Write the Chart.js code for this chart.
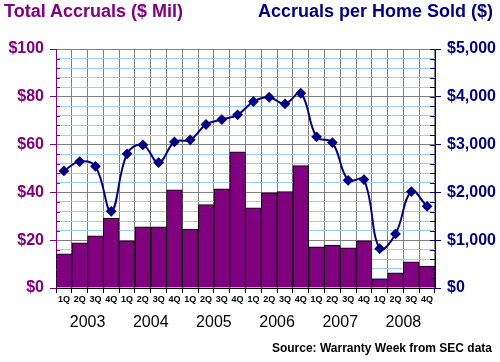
<!DOCTYPE html>
<html>
<head>
<meta charset="utf-8">
<script src="https://cdn.jsdelivr.net/npm/chart.js@4/dist/chart.umd.min.js"></script>
<style>
  html, body { margin: 0; padding: 0; background: #fff; }
  #wrap { position: relative; width: 500px; height: 362px; overflow: hidden; }
  canvas { position: absolute; left: 0; top: 0; }
  .t { position: absolute; font-family: "Liberation Sans", Arial, sans-serif; font-weight: bold; white-space: nowrap; line-height: 1; }
</style>
</head>
<body>
<div id="wrap">
  <canvas id="c" width="500" height="362"></canvas>
  <div class="t" style="left:4px; top:2px; font-size:18px; color:#800080;">Total Accruals ($ Mil)</div>
  <div class="t" style="right:7px; top:2px; font-size:18px; color:#000080;">Accruals per Home Sold ($)</div>
  <div class="t" style="right:8px; top:342px; font-size:12px; color:#000;">Source: Warranty Week from SEC data</div>
</div>
<script>
const quarters = ['1Q','2Q','3Q','4Q','1Q','2Q','3Q','4Q','1Q','2Q','3Q','4Q',
                  '1Q','2Q','3Q','4Q','1Q','2Q','3Q','4Q','1Q','2Q','3Q','4Q'];
const years = ['2003','2004','2005','2006','2007','2008'];
const totalAccruals = [14.3, 18.9, 21.8, 29.3, 19.7, 25.6, 25.6, 41.1, 24.7, 34.9, 41.5, 57.0,
                       33.5, 39.8, 40.3, 51.2, 17.2, 18.0, 16.8, 19.7, 3.8, 6.3, 10.9, 9.2];
const perHomeSold = [2450, 2645, 2546, 1604, 2806, 2994, 2624, 3057, 3099, 3420, 3524, 3623,
                     3901, 3991, 3853, 4075, 3162, 3043, 2253, 2268, 823, 1131, 2017, 1709];
const leftTicks = [0, 20, 40, 60, 80, 100];
const rightTicks = [0, 1000, 2000, 3000, 4000, 5000];

const PURPLE = '#800080', NAVY = '#000080', GRAY = '#808080', LBLUE = '#99CCFF';
const FONT = '"Liberation Sans", Arial, sans-serif';

const extras = {
  id: 'extras',
  afterDatasetsDraw(chart) {
    const ctx = chart.ctx;
    const y = chart.scales.y, y1 = chart.scales.y1;
    ctx.save();
    ctx.lineWidth = 1;
    ctx.strokeStyle = PURPLE;
    for (let v = 0; v <= 100; v += 4) {
      if (v % 20 === 0) continue;
      const py = Math.round(y.getPixelForValue(v)) + 0.5;
      ctx.beginPath(); ctx.moveTo(y.right, py); ctx.lineTo(y.right + 4, py); ctx.stroke();
    }
    ctx.strokeStyle = NAVY;
    for (let v = 0; v <= 5000; v += 200) {
      const py = Math.round(y1.getPixelForValue(v)) + 0.5;
      ctx.beginPath(); ctx.moveTo(y1.left - 5, py); ctx.lineTo(y1.left, py); ctx.stroke();
    }
    ctx.restore();
  },
  afterDraw(chart) {
    const ctx = chart.ctx;
    const x = chart.scales.x;
    ctx.save();
    ctx.font = '16px ' + FONT;
    ctx.fillStyle = '#000';
    ctx.textAlign = 'center';
    ctx.textBaseline = 'middle';
    years.forEach((yr, i) => {
      const cx = (x.getPixelForValue(4 * i + 1) + x.getPixelForValue(4 * i + 2)) / 2;
      ctx.fillText(yr, cx, 323);
    });
    ctx.restore();
  }
};

new Chart(document.getElementById('c'), {
  type: 'bar',
  data: {
    labels: quarters,
    datasets: [
      {
        type: 'line',
        label: 'Accruals per Home Sold ($)',
        data: perHomeSold,
        yAxisID: 'y1',
        borderColor: NAVY,
        borderWidth: 2,
        backgroundColor: NAVY,
        pointStyle: 'rectRot',
        pointRadius: 4,
        pointBackgroundColor: NAVY,
        pointBorderColor: NAVY,
        tension: 0.4,
        order: 0
      },
      {
        type: 'bar',
        label: 'Total Accruals ($ Mil)',
        data: totalAccruals,
        yAxisID: 'y',
        backgroundColor: PURPLE,
        borderColor: '#000',
        borderWidth: 1,
        barPercentage: 1,
        categoryPercentage: 1,
        order: 1
      }
    ]
  },
  options: {
    responsive: false,
    animation: false,
    devicePixelRatio: 1,
    layout: { padding: { top: 49, left: 0, right: 0, bottom: 0 } },
    plugins: { legend: { display: false }, tooltip: { enabled: false }, title: { display: false } },
    scales: {
      x: {
        type: 'category',
        offset: true,
        afterFit(s) { s.height = 74; },
        grid: { offset: true, color: GRAY, lineWidth: 1, drawTicks: true, tickLength: 5, tickColor: '#000' },
        border: { color: '#000', width: 1 },
        ticks: { autoSkip: false, maxRotation: 0, minRotation: 0, padding: 1, color: '#000',
                 font: { family: FONT, size: 9, weight: 'bold' } }
      },
      y: {
        position: 'left',
        min: 0, max: 100,
        afterFit(s) { s.width = 56; },
        afterBuildTicks(s) { const t = []; for (let v = 0; v <= 100; v += 4) t.push({ value: v }); s.ticks = t; },
        grid: {
          color: c => (c.tick && c.tick.value % 20 === 0) ? GRAY : LBLUE,
          tickColor: c => (c.tick && c.tick.value % 20 === 0) ? PURPLE : 'rgba(0,0,0,0)',
          tickLength: 6, lineWidth: 1
        },
        border: { color: PURPLE, width: 1 },
        ticks: {
          autoSkip: false,
          padding: 6, color: PURPLE,
          font: { family: FONT, size: 16, weight: 'bold' },
          callback: v => leftTicks.includes(v) ? '$' + v : ''
        }
      },
      y1: {
        position: 'right',
        min: 0, max: 5000,
        afterFit(s) { s.width = 65; },
        afterBuildTicks(s) { const t = []; for (let v = 0; v <= 5000; v += 200) t.push({ value: v }); s.ticks = t; },
        grid: {
          drawOnChartArea: false,
          tickColor: c => (c.tick && c.tick.value % 1000 === 0) ? NAVY : 'rgba(0,0,0,0)',
          tickLength: 6
        },
        border: { color: NAVY, width: 1 },
        ticks: {
          autoSkip: false,
          padding: 6, color: NAVY,
          font: { family: FONT, size: 16, weight: 'bold' },
          callback: v => rightTicks.includes(v) ? '$' + v.toLocaleString('en-US') : ''
        }
      }
    }
  },
  plugins: [extras]
});
</script>
</body>
</html>
